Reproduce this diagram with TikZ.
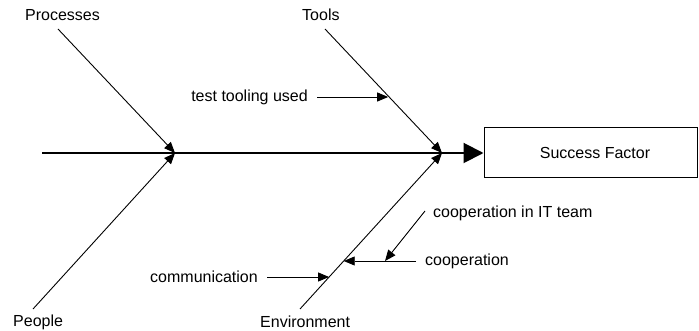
\documentclass[tikz,border=0pt]{standalone}
\usepackage{fontspec}
\setmainfont{Liberation Sans}
\usetikzlibrary{arrows.meta,calc}
\begin{document}
\begin{tikzpicture}[x=1pt,y=-1pt,
  every node/.style={font=\fontsize{16}{19}\selectfont},
  lbl/.style={inner sep=0pt, anchor=west},
  cause/.style={inner xsep=9pt, inner ysep=2pt},
  bone/.style={line width=0.9pt, -{Triangle[length=11pt,width=9pt]}},
  spine/.style={line width=2pt, -{Triangle[length=20pt,width=20pt]}},
  box/.style={draw, line width=1pt, minimum width=213pt, minimum height=50pt, anchor=west, inner sep=0pt}
]
\useasboundingbox (0,0) rectangle (699,331);

% effect box
\node[box] (sf) at (483.5,153) {};
\node (sft) at (595,153) {Success Factor};

% spine
\coordinate (s0) at (42,153);
\coordinate (J1) at (175,153);
\coordinate (J2) at (442,153);
\draw[spine] (s0) -- (sf.west);

% category labels
\node[lbl] (proc) at (25,15) {Processes};
\node[lbl] (tools) at (302,15) {Tools};
\node[lbl] (people) at (13,322) {People};
\node[lbl] (env) at (260,322) {Environment};

% bone start points
\coordinate (p0) at (58,29);
\coordinate (q0) at (33,309);
\coordinate (t0) at (325,29);
\coordinate (e0) at (300,309);

\draw[bone] (p0) -- (J1);
\draw[bone] (q0) -- (J1);
\draw[bone] (t0) -- (J2);
\draw[bone] (e0) -- (J2);

% points on bones
\coordinate (tl) at ($(t0)!0.54!(J2)$);
\coordinate (el) at ($(e0)!0.205!(J2)$);
\coordinate (ec) at ($(e0)!0.308!(J2)$);

% causes
\node[cause, anchor=east] (tt) at (317,97) {test tooling used};
\draw[bone] (tt.east) -- (tt.east -| tl);

\node[cause, anchor=east] (comm) at (267,277) {communication};
\draw[bone] (comm.east) -- (comm.east -| el);

\node[cause, anchor=west] (coop) at (416,261) {cooperation};
\draw[bone] (coop.west) -- (coop.west -| ec);

\coordinate (cm) at (385,261);
\node[lbl] (citt) at (433,213) {cooperation in IT team};
\coordinate (c0) at (425,211);
\draw[bone] (c0) -- (cm);
\end{tikzpicture}
\end{document}
